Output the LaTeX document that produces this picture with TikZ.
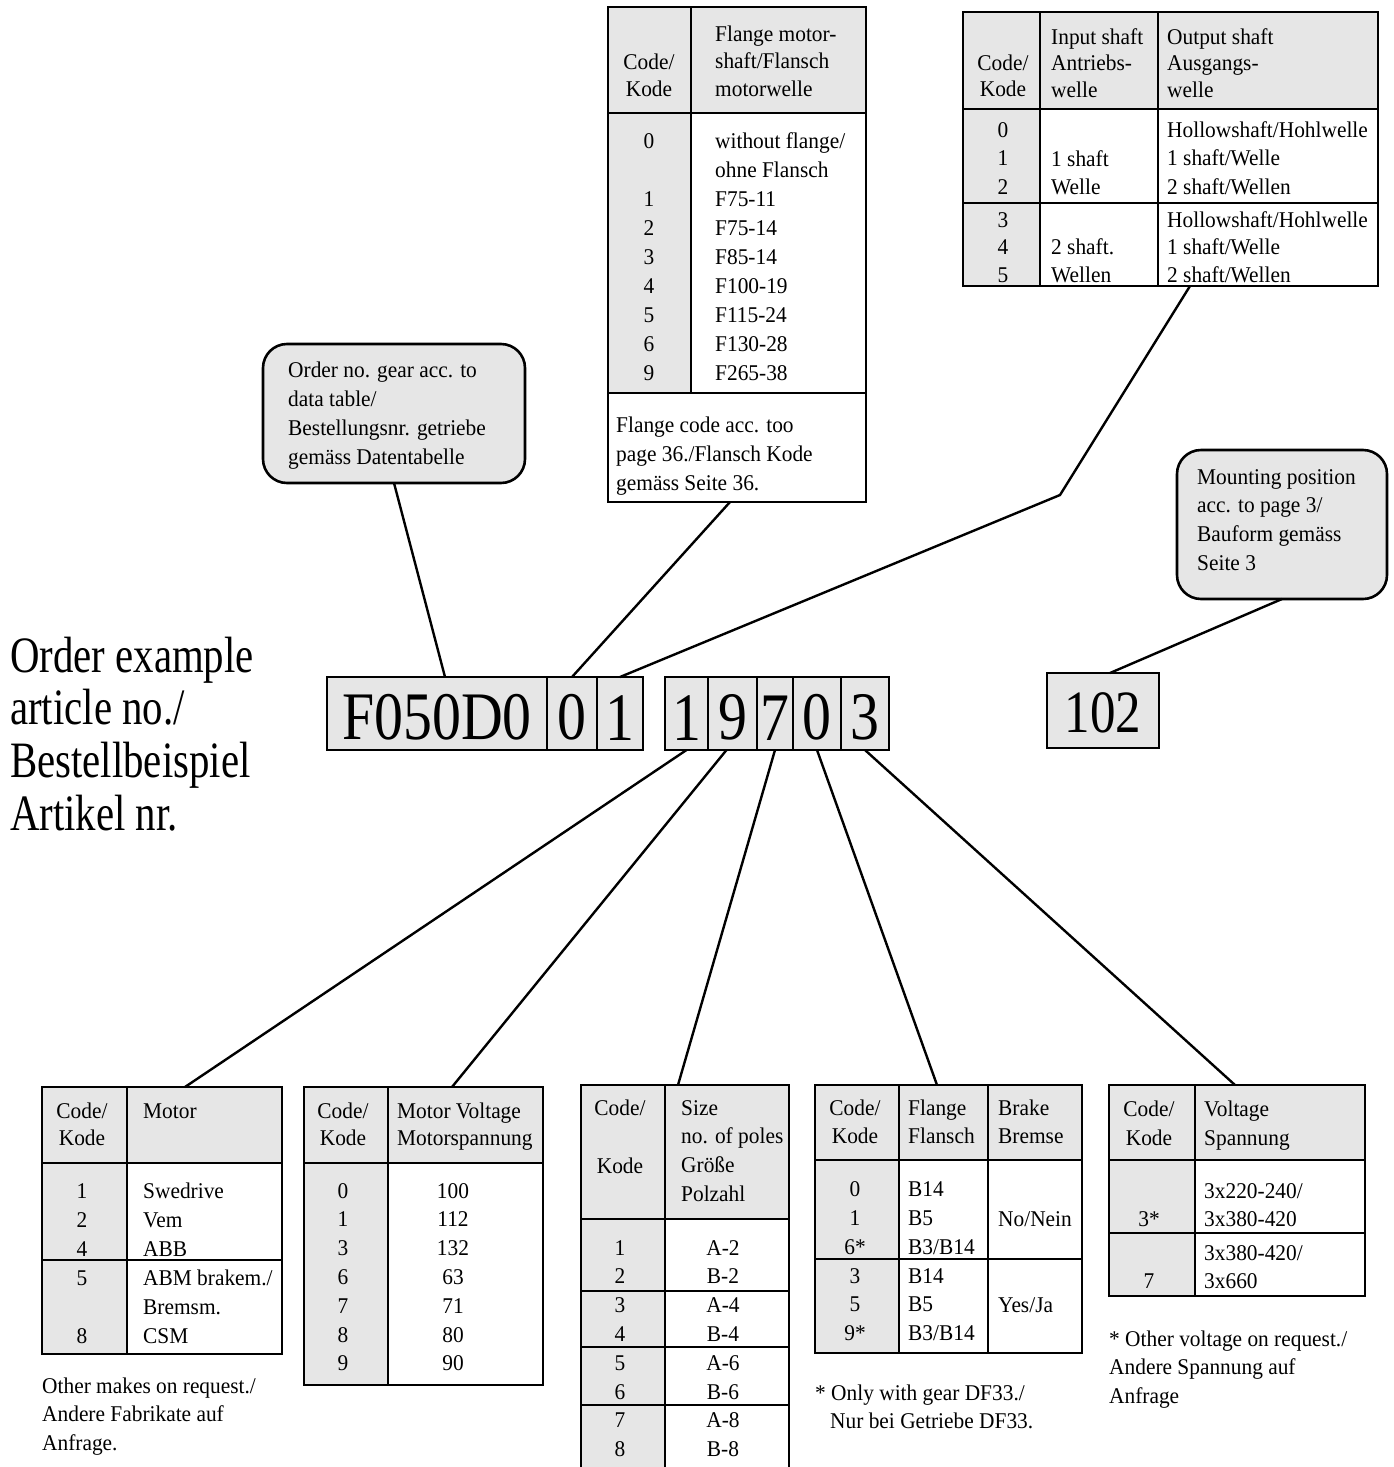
\documentclass[tikz,border=0pt]{standalone}
\usepackage{fontspec}
\setmainfont{Liberation Serif}
\newfontfamily\tabfamily{Liberation Serif}[FakeStretch=0.95]
\newfontfamily\bigfamily{Liberation Serif}[FakeStretch=0.8]
\newfontfamily\codefamily{Liberation Serif}[FakeStretch=0.85]
\newcommand\tabtext{\tabfamily\fontsize{22.5}{29}\selectfont}
\newcommand\bigtext{\bigfamily\fontsize{51}{53}\selectfont}
\newcommand\codetext{\codefamily\fontsize{68}{70}\selectfont}
\newcommand\smallcodetext{\codefamily\fontsize{60}{62}\selectfont}
\definecolor{cellgray}{RGB}{230,230,230}

% stack of text lines: name, style, x, first baseline, pitch, lines
\newcommand\stackat[6]{%
  \foreach \ln [count=\k] in {#6}{\node[#2] (#1-\k) at (#3,{#4+#5*(\k-1)}) {\ln};}}

\tikzset{
  tbl/.style={draw, line width=2.6pt, inner sep=0pt, outer sep=0pt, anchor=north west},
  rule/.style={line width=2.6pt},
  shade/.style={fill=cellgray},
  lt/.style={inner sep=0pt, anchor=base west, font=\tabtext},
  ct/.style={inner sep=0pt, anchor=base, font=\tabtext},
  bt/.style={inner sep=0pt, anchor=base west, font=\bigtext},
  link/.style={line width=2.4pt},
  callout/.style={draw, fill=cellgray, line width=2.6pt, rounded corners=24pt,
    inner sep=0pt, outer sep=0pt, anchor=north west},
  codecell/.style={draw, fill=cellgray, line width=2.6pt, inner sep=0pt, outer sep=0pt,
    anchor=north west, minimum height=73pt, text height=53pt, font=\codetext},
}

\begin{document}
\begin{tikzpicture}[x=1pt, y=-1pt]
\clip (0,0) rectangle (1394,1467);
\fill[white] (0,0) rectangle (1394,1467);

% ---------- flange / motor shaft table (top middle) ----------
\fill[shade] (608,7) rectangle (866,113);
\fill[shade] (608,113) rectangle (691,393);
\node[tbl, minimum width=258pt, minimum height=495pt] (T1) at (608,7) {};
\draw[rule] (608,113) -- (866,113);
\draw[rule] (608,393) -- (866,393);
\draw[rule] (691,7) -- (691,393);
\node[ct] (t1c1) at (649,69) {Code/};
\node[ct] (t1c2) at (649,96) {Kode};
\stackat{t1h}{lt}{715}{41}{27.5}{Flange motor-,shaft/Flansch,motorwelle}
\node[ct] (t1k0) at (649,148) {0};
\stackat{t1k}{ct}{649}{206}{29}{1,2,3,4,5,6,9}
\stackat{t1v}{lt}{715}{148}{29}{without flange/,ohne Flansch,F75-11,F75-14,F85-14,F100-19,F115-24,F130-28,F265-38}
\stackat{t1f}{lt}{616}{432}{29}{Flange code acc. too,page 36./Flansch Kode,gemäss Seite 36.}

% ---------- shaft table (top right) ----------
\fill[shade] (963,12) rectangle (1378,109);
\fill[shade] (963,109) rectangle (1040,286);
\node[tbl, minimum width=415pt, minimum height=274pt] (T2) at (963,12) {};
\draw[rule] (963,109) -- (1378,109);
\draw[rule] (963,203) -- (1378,203);
\draw[rule] (1040,12) -- (1040,286);
\draw[rule] (1158,12) -- (1158,286);
\node[ct] (t2c1) at (1003,70) {Code/};
\node[ct] (t2c2) at (1003,96) {Kode};
\stackat{t2i}{lt}{1051}{44}{26.5}{Input shaft,Antriebs-,welle}
\stackat{t2o}{lt}{1167}{44}{26.5}{Output shaft,Ausgangs-,welle}
\stackat{t2k}{ct}{1003}{137}{28.7}{0,1,2}
\stackat{t2m}{ct}{1003}{227}{27.5}{3,4,5}
\node[lt] (t2a) at (1051,166) {1 shaft};
\node[lt] (t2b) at (1051,194) {Welle};
\node[lt] (t2c) at (1051,254.5) {2 shaft.};
\node[lt] (t2d) at (1051,282) {Wellen};
\stackat{t2p}{lt}{1167}{137}{28.7}{Hollowshaft/Hohlwelle,1 shaft/Welle,2 shaft/Wellen}
\stackat{t2q}{lt}{1167}{227}{27.5}{Hollowshaft/Hohlwelle,1 shaft/Welle,2 shaft/Wellen}

% ---------- callouts ----------
\node[callout, minimum width=262pt, minimum height=139pt] (C1) at (263,344) {};
\stackat{c1t}{lt}{288}{377}{29}{Order no. gear acc. to,data table/,Bestellungsnr. getriebe,gemäss Datentabelle}
\node[callout, minimum width=210pt, minimum height=149pt] (C2) at (1177,450) {};
\stackat{c2t}{lt}{1197}{484}{28.7}{Mounting position,acc. to page 3/,Bauform gemäss,Seite 3}

% ---------- title ----------
\stackat{lbl}{bt}{10}{672}{52.7}{Order example,article no./,Bestellbeispiel,Artikel nr.}

% ---------- article number ----------
\node[codecell, minimum width=220pt] (cF) at (327,677) {F050D0};
\node[codecell, minimum width=50pt] (cA) at (547,677) {0};
\node[codecell, minimum width=46pt] (cB) at (597,677) {1};
\node[codecell, minimum width=43pt] (d1) at (665,677) {1};
\node[codecell, minimum width=49pt] (d9) at (708,677) {9};
\node[codecell, minimum width=36pt] (d7) at (757,677) {7};
\node[codecell, minimum width=48pt] (d0) at (793,677) {0};
\node[codecell, minimum width=48pt] (d3) at (841,677) {3};
\node[codecell, minimum width=112pt, minimum height=75pt, text height=45pt,
      font=\smallcodetext] (b102) at (1047,673) {102};

% ---------- motor table ----------
\fill[shade] (42,1087) rectangle (282,1163);
\fill[shade] (42,1163) rectangle (127,1354);
\node[tbl, minimum width=240pt, minimum height=267pt] (B1) at (42,1087) {};
\draw[rule] (42,1163) -- (282,1163);
\draw[rule] (42,1260) -- (282,1260);
\draw[rule] (127,1087) -- (127,1354);
\node[ct] (b1c1) at (82,1118) {Code/};
\node[ct] (b1c2) at (82,1145) {Kode};
\node[lt] (b1h) at (143,1118) {Motor};
\stackat{b1k}{ct}{82}{1198}{29}{1,2,4,5}
\node[ct] (b1k8) at (82,1343) {8};
\stackat{b1v}{lt}{143}{1198}{29}{Swedrive,Vem,ABB,ABM brakem./,Bremsm.,CSM}
\stackat{b1f}{lt}{42}{1393}{28.5}{Other makes on request./,Andere Fabrikate auf,Anfrage.}

% ---------- motor voltage table ----------
\fill[shade] (304,1087) rectangle (543,1163);
\fill[shade] (304,1163) rectangle (388,1385);
\node[tbl, minimum width=239pt, minimum height=298pt] (B2) at (304,1087) {};
\draw[rule] (304,1163) -- (543,1163);
\draw[rule] (388,1087) -- (388,1385);
\node[ct] (b2c1) at (343,1118) {Code/};
\node[ct] (b2c2) at (343,1145) {Kode};
\stackat{b2h}{lt}{397}{1118}{27}{Motor Voltage,Motorspannung}
\stackat{b2k}{ct}{343}{1198}{28.8}{0,1,3,6,7,8,9}
\stackat{b2v}{ct}{453}{1198}{28.8}{100,112,132,63,71,80,90}

% ---------- size / poles table ----------
\fill[shade] (581,1085) rectangle (789,1219);
\fill[shade] (581,1219) rectangle (665,1480);
\node[tbl, minimum width=208pt, minimum height=395pt] (B3) at (581,1085) {};
\draw[rule] (581,1219) -- (789,1219);
\draw[rule] (581,1291) -- (789,1291);
\draw[rule] (581,1347) -- (789,1347);
\draw[rule] (581,1405) -- (789,1405);
\draw[rule] (665,1085) -- (665,1480);
\node[ct] (b3c1) at (620,1115) {Code/};
\node[ct] (b3c2) at (620,1173) {Kode};
\stackat{b3h}{lt}{681}{1115}{28.7}{Size,no. of poles,Größe,Polzahl}
\stackat{b3k}{ct}{620}{1255}{28.8}{1,2,3,4,5,6,7,8}
\stackat{b3v}{ct}{723}{1255}{28.8}{A-2,B-2,A-4,B-4,A-6,B-6,A-8,B-8}

% ---------- flange / brake table ----------
\fill[shade] (815,1085) rectangle (1082,1160);
\fill[shade] (815,1160) rectangle (899,1353);
\node[tbl, minimum width=267pt, minimum height=268pt] (B4) at (815,1085) {};
\draw[rule] (815,1160) -- (1082,1160);
\draw[rule] (815,1259) -- (1082,1259);
\draw[rule] (899,1085) -- (899,1353);
\draw[rule] (988,1085) -- (988,1353);
\node[ct] (b4c1) at (855,1115) {Code/};
\node[ct] (b4c2) at (855,1143) {Kode};
\stackat{b4h}{lt}{908}{1115}{28}{Flange,Flansch}
\stackat{b4b}{lt}{998}{1115}{28}{Brake,Bremse}
\stackat{b4k}{ct}{855}{1196}{29}{0,1,6*}
\stackat{b4m}{ct}{855}{1283}{28.7}{3,5,9*}
\stackat{b4v}{lt}{908}{1196}{29}{B14,B5,B3/B14}
\stackat{b4w}{lt}{908}{1283}{28.7}{B14,B5,B3/B14}
\node[lt] (b4n) at (998,1226) {No/Nein};
\node[lt] (b4y) at (998,1312) {Yes/Ja};
\node[lt] (b4f1) at (815,1400) {* Only with gear DF33./};
\node[lt] (b4f2) at (830,1428) {Nur bei Getriebe DF33.};

% ---------- voltage table ----------
\fill[shade] (1109,1085) rectangle (1365,1160);
\fill[shade] (1109,1160) rectangle (1195,1296);
\node[tbl, minimum width=256pt, minimum height=211pt] (B5) at (1109,1085) {};
\draw[rule] (1109,1160) -- (1365,1160);
\draw[rule] (1109,1233) -- (1365,1233);
\draw[rule] (1195,1085) -- (1195,1296);
\node[ct] (b5c1) at (1149,1116) {Code/};
\node[ct] (b5c2) at (1149,1145) {Kode};
\stackat{b5h}{lt}{1204}{1116}{29}{Voltage,Spannung}
\stackat{b5v}{lt}{1204}{1198}{28}{3x220-240/,3x380-420}
\stackat{b5w}{lt}{1204}{1260}{28}{3x380-420/,3x660}
\node[ct] (b5k3) at (1149,1226) {3*};
\node[ct] (b5k7) at (1149,1288) {7};
\stackat{b5f}{lt}{1109}{1346}{28.5}{* Other voltage on request./,Andere Spannung auf,Anfrage}

% ---------- connectors ----------
\coordinate (bend) at (1060,495);
\draw[link] (C1.south) -- ([xshift=8pt]cF.north);
\draw[link] ([xshift=-7pt]T1.south) -- (cA.north);
\draw[link] ([xshift=227pt]T2.south west) -- (bend) -- (cB.north);
\draw[link] (C2.south) -- ([xshift=7pt]b102.north);
\draw[link] (d1.south) -- ([xshift=143pt]B1.north west);
\draw[link] ([xshift=-6pt]d9.south) -- ([xshift=148pt]B2.north west);
\draw[link] (d7.south) -- ([xshift=97pt]B3.north west);
\draw[link] (d0.south) -- ([xshift=122pt]B4.north west);
\draw[link] (d3.south) -- ([xshift=126pt]B5.north west);
\end{tikzpicture}
\end{document}
